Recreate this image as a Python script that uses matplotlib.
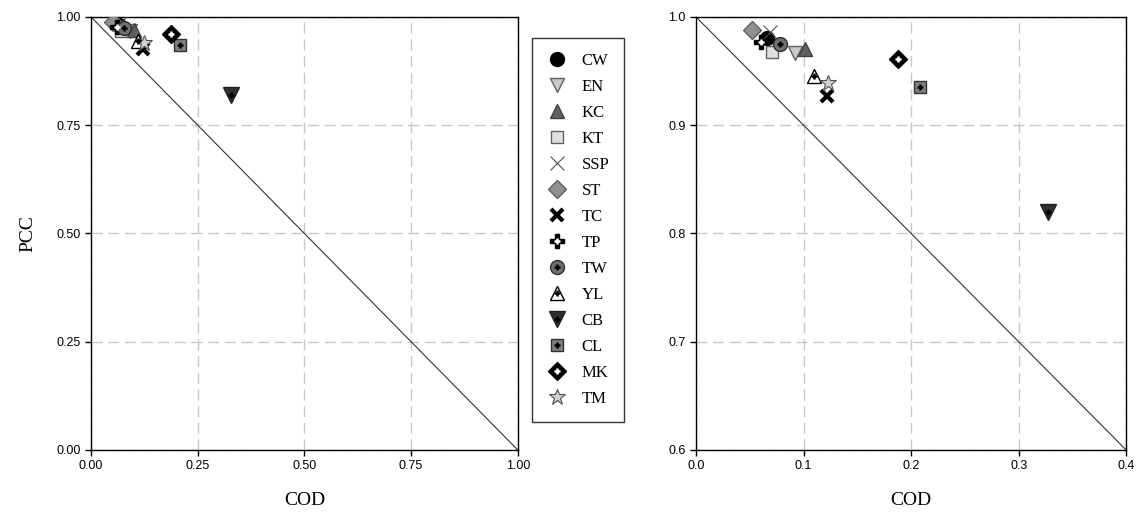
import matplotlib
matplotlib.use("Agg")
import matplotlib.pyplot as plt
from matplotlib.legend_handler import HandlerTuple

# 모델별 (COD, PCC)
names = ["CW", "EN", "KC", "KT", "SSP", "ST", "TC", "TP", "TW", "YL", "CB", "CL", "MK", "TM"]
cod = [0.066, 0.092, 0.101, 0.071, 0.069, 0.052, 0.122, 0.060, 0.078, 0.110, 0.327, 0.208, 0.188, 0.123]
pcc = [0.981, 0.967, 0.970, 0.968, 0.986, 0.988, 0.927, 0.977, 0.975, 0.945, 0.820, 0.935, 0.961, 0.939]

left_ticks = [0.0, 0.25, 0.5, 0.75, 1.0]
right_xticks = [0.0, 0.1, 0.2, 0.3, 0.4]
right_yticks = [0.6, 0.7, 0.8, 0.9, 1.0]

# 마커 스타일: (marker, size, face, edge, mew, overlay)
styles = {
    "CW": ("o", 10, "black", "black", 1.0, None),
    "EN": ("v", 10, "#c8c8c8", "#606060", 1.0, None),
    "KC": ("^", 10, "#606060", "#404040", 1.0, None),
    "KT": ("s", 9, "#e0e0e0", "#606060", 1.0, None),
    "SSP": ("x", 10, "#505050", "#505050", 0.8, None),
    "ST": ("D", 9, "#909090", "#606060", 1.0, None),
    "TC": ("x", 9, "black", "black", 3.0, None),
    "TP": ("P", 10, "black", "black", 1.0, "white"),
    "TW": ("o", 10, "#707070", "#303030", 1.0, "black"),
    "YL": ("^", 10, "white", "black", 1.0, "black"),
    "CB": ("v", 11, "#303030", "#202020", 1.0, "black"),
    "CL": ("s", 9, "#808080", "#303030", 1.0, "black"),
    "MK": ("D", 9, "black", "black", 1.0, "white"),
    "TM": ("*", 12, "#d0d0d0", "#505050", 0.8, None),
}

SERIF = "Liberation Serif"
SANS = "Liberation Sans"

fig = plt.figure(figsize=(11.41, 5.23), dpi=100)
ax1 = fig.add_axes([0.0798, 0.1396, 0.374, 0.828])
ax2 = fig.add_axes([0.610, 0.1396, 0.377, 0.828])


def draw(ax):
    handles = []
    for n, x, y in zip(names, cod, pcc):
        m, ms, fc, ec, mew, ov = styles[n]
        h, = ax.plot([x], [y], linestyle="none", marker=m, markersize=ms,
                     markerfacecolor=fc, markeredgecolor=ec, markeredgewidth=mew, zorder=3)
        if ov:
            o, = ax.plot([x], [y], linestyle="none", marker="+", markersize=5,
                         markeredgecolor=ov, markeredgewidth=1.8, zorder=4)
            handles.append((h, o))
        else:
            handles.append(h)
    ax.plot([0, 1], [1, 0], color="#333333", linewidth=0.8, zorder=2)
    ax.grid(True, linestyle=(0, (8, 4)), color="#c8c8c8", linewidth=1.0)
    ax.set_axisbelow(True)
    for s in ax.spines.values():
        s.set_linewidth(1.0)
    ax.tick_params(direction="out", length=4, width=1, labelsize=9)
    for lab in ax.get_xticklabels() + ax.get_yticklabels():
        lab.set_fontfamily(SANS)
    ax.set_xlabel("COD", fontfamily=SERIF, fontsize=14, labelpad=14)
    return handles


ax1.set_xlim(0, 1)
ax1.set_ylim(0, 1)
ax1.set_xticks(left_ticks)
ax1.set_yticks(left_ticks)
ax1.set_xticklabels([f"{t:.2f}" for t in left_ticks])
ax1.set_yticklabels([f"{t:.2f}" for t in left_ticks])
handles = draw(ax1)
ax1.set_ylabel("PCC", fontfamily=SERIF, fontsize=14, labelpad=14)

ax2.set_xlim(0, 0.4)
ax2.set_ylim(0.6, 1.0)
ax2.set_xticks(right_xticks)
ax2.set_yticks(right_yticks)
ax2.set_xticklabels([f"{t:.1f}" for t in right_xticks])
ax2.set_yticklabels([f"{t:.1f}" for t in right_yticks])
draw(ax2)

leg = fig.legend(handles, names, loc="upper left", bbox_to_anchor=(0.466, 0.927),
                 handler_map={tuple: HandlerTuple(ndivide=1, pad=0)},
                 prop={"family": SERIF, "size": 12}, numpoints=1,
                 handlelength=1.2, handletextpad=0.9, labelspacing=0.6,
                 borderpad=0.9, frameon=True, fancybox=False, borderaxespad=0)
leg.get_frame().set_edgecolor("black")
leg.get_frame().set_linewidth(1.0)

fig.savefig("out.png", dpi=100)
